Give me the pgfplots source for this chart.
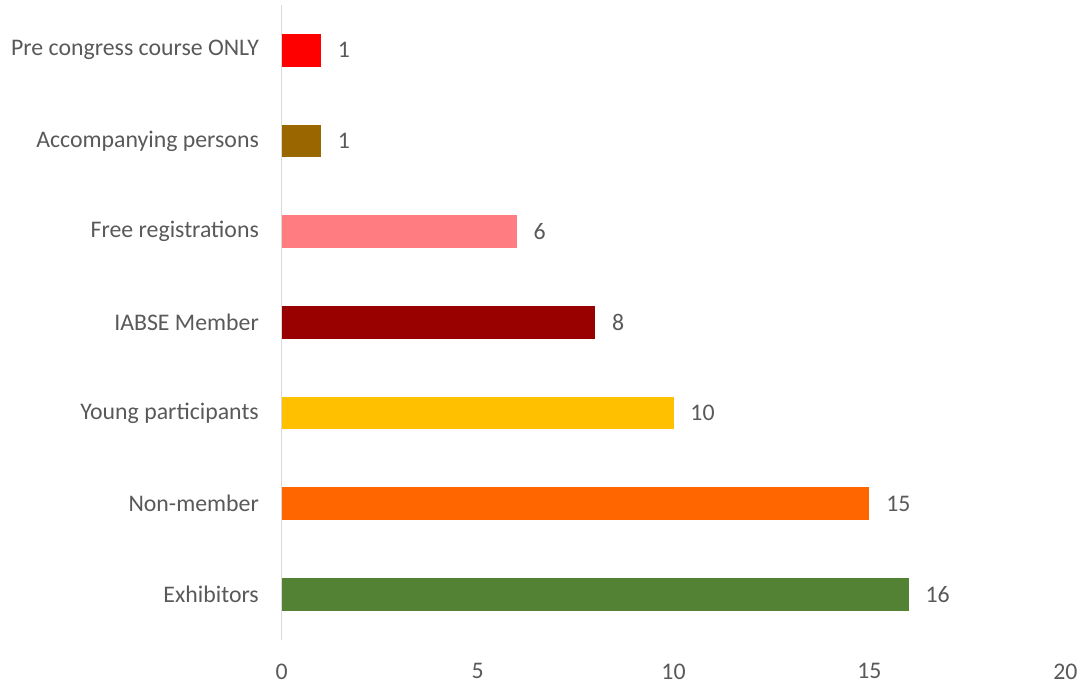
\documentclass[border=0pt]{standalone}
\usepackage{fontspec}
\setmainfont{Carlito}
\usepackage{pgfplots}
\pgfplotsset{compat=1.18}
\definecolor{txt}{HTML}{595959}
\definecolor{c1}{HTML}{FF0000}
\definecolor{c2}{HTML}{996600}
\definecolor{c3}{HTML}{FF7C80}
\definecolor{c4}{HTML}{990000}
\definecolor{c5}{HTML}{FFC000}
\definecolor{c6}{HTML}{FF6600}
\definecolor{c7}{HTML}{548235}
\begin{document}
\begin{tikzpicture}
\begin{axis}[
  scale only axis, width=395pt, height=320pt,
  xbar, bar width=16.5pt, bar shift=0pt,
  xmin=0, xmax=20, ymin=-0.5, ymax=6.5,
  xtick={0,5,10,15,20},
  ytick={0,1,2,3,4,5,6},
  yticklabels={Exhibitors, Non-member, Young participants, IABSE Member, Free registrations\hspace{3pt}, Accompanying persons, Pre congress course ONLY},
  axis lines*=left,
  x axis line style={draw=none},
  y axis line style={draw=black!15, line width=0.8pt},
  major tick length=0pt,
  tick label style={font=\fontsize{12}{14}\selectfont, text=txt},
  xticklabel style={yshift=-8.5pt},
  yticklabel style={xshift=-8pt},
  /pgf/number format/assume math mode=true,
  nodes near coords,
  every node near coord/.append style={font=\fontsize{12}{14}\selectfont, text=txt, xshift=5pt},
  clip=false,
]
\addplot[fill=c7, draw=none] coordinates {(16,0)};
\addplot[fill=c6, draw=none] coordinates {(15,1)};
\addplot[fill=c5, draw=none] coordinates {(10,2)};
\addplot[fill=c4, draw=none] coordinates {(8,3)};
\addplot[fill=c3, draw=none] coordinates {(6,4)};
\addplot[fill=c2, draw=none] coordinates {(1,5)};
\addplot[fill=c1, draw=none] coordinates {(1,6)};
\end{axis}
\path (current axis.north west) ++(-142pt,2.5pt) coordinate (tl);
\path (tl) rectangle (tl);
\end{tikzpicture}
\end{document}
